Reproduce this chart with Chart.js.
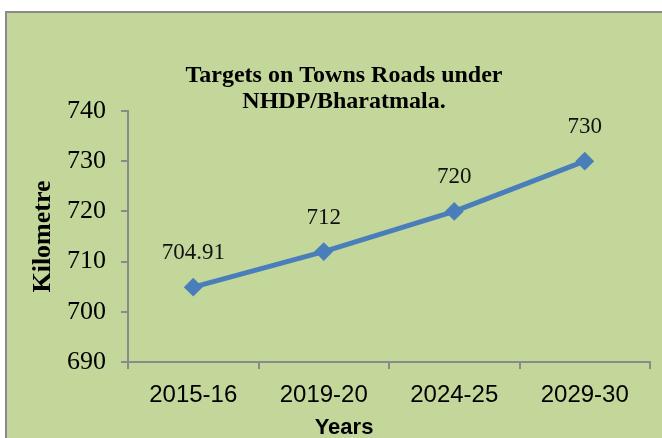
<!DOCTYPE html>
<html>
<head>
<meta charset="utf-8">
<script src="https://cdn.jsdelivr.net/npm/chart.js@4/dist/chart.umd.min.js"></script>
<style>
  html, body { margin: 0; padding: 0; background: #fff; overflow: hidden; width: 662px; height: 438px; }
  #box { position: absolute; left: 5px; top: 11px; width: 700px; height: 460px;
         border: 2px solid #8a8a8a; background: #c4d79b; }
  #chart { position: absolute; left: 0; top: 0; }
</style>
</head>
<body>
<div id="box"><canvas id="chart" width="680" height="430"></canvas></div>
<script>
// 차트 데이터
const years = ['2015-16', '2019-20', '2024-25', '2029-30'];
const targetKm = [704.91, 712, 720, 730];
const yMin = 690, yMax = 740, yStep = 10;

const titleLines = ['Targets on Towns Roads under', 'NHDP/Bharatmala.'];
const yTitle = 'Kilometre';
const xTitle = 'Years';

const lineColor = '#4a7ebb';
const axisColor = '#8a8a8a';

// 각 점 위에 값 표시
const valueLabels = {
    id: 'valueLabels',
    afterDatasetsDraw(chart) {
        const ctx = chart.ctx;
        const meta = chart.getDatasetMeta(0);
        ctx.save();
        ctx.font = '23px "Liberation Serif"';
        ctx.fillStyle = '#111';
        ctx.textAlign = 'center';
        ctx.textBaseline = 'middle';
        meta.data.forEach((pt, i) => {
            ctx.fillText(String(targetKm[i]), pt.x, pt.y - 34);
        });
        ctx.restore();
    }
};

new Chart(document.getElementById('chart'), {
    type: 'line',
    data: {
        labels: years,
        datasets: [{
            data: targetKm,
            borderColor: lineColor,
            backgroundColor: lineColor,
            borderWidth: 5,
            tension: 0,
            pointStyle: 'rectRot',
            pointRadius: 8,
            pointBorderWidth: 2,
            pointBorderColor: lineColor,
            pointBackgroundColor: lineColor
        }]
    },
    options: {
        responsive: false,
        animation: false,
        devicePixelRatio: 1,
        layout: { padding: { left: 31, right: 37, top: 0, bottom: 0 } },
        plugins: {
            legend: { display: false },
            tooltip: { enabled: false },
            title: {
                display: true,
                text: titleLines,
                color: '#000',
                font: { family: 'Liberation Serif', size: 24, weight: 'bold', lineHeight: 26 / 24 },
                padding: { top: 50, bottom: -4 }
            },
            subtitle: {
                display: true,
                position: 'bottom',
                text: xTitle,
                color: '#000',
                font: { family: 'Liberation Sans', size: 22, weight: 'bold', lineHeight: 1.2 },
                padding: { top: 3, bottom: 1.6 }
            }
        },
        scales: {
            x: {
                offset: true,
                grid: { display: true, offset: true, drawOnChartArea: false, tickLength: 7, color: axisColor, lineWidth: 2 },
                border: { color: axisColor, width: 2 },
                ticks: { color: '#000', padding: 12, font: { family: 'Liberation Sans', size: 24 } },
                afterFit(scale) { scale.height = 50; }
            },
            y: {
                min: yMin,
                max: yMax,
                grid: { display: true, drawOnChartArea: false, tickLength: 7, color: axisColor, lineWidth: 2 },
                border: { color: axisColor, width: 2 },
                ticks: { stepSize: yStep, color: '#000', padding: 15, font: { family: 'Liberation Serif', size: 26 } },
                title: {
                    display: true,
                    text: yTitle,
                    color: '#000',
                    font: { family: 'Liberation Serif', size: 26, weight: 'bold', lineHeight: 1.2 },
                    padding: { top: -10, bottom: 0 }
                },
                afterFit(scale) { scale.width = 90; }
            }
        }
    },
    plugins: [valueLabels]
});
</script>
</body>
</html>
